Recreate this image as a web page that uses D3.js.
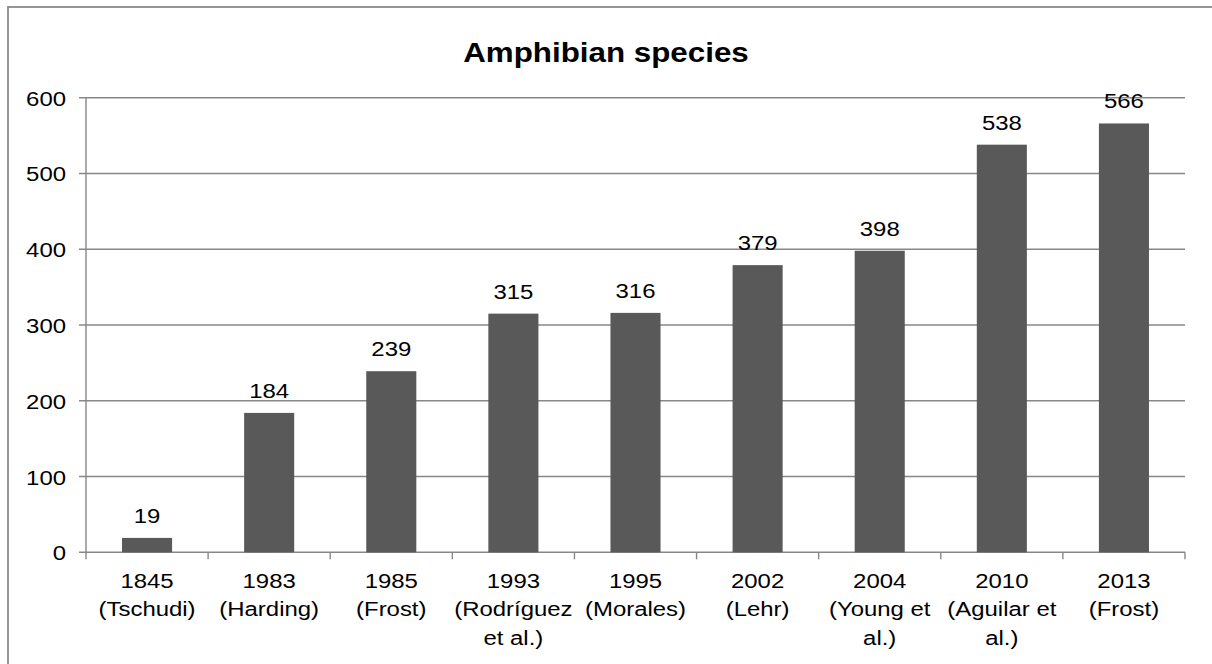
<!DOCTYPE html>
<html>
<head>
<meta charset="utf-8">
<script src="https://cdn.jsdelivr.net/npm/d3@7"></script>
<style>
  html, body { margin: 0; padding: 0; background: #fff; }
  svg { display: block; font-family: "Liberation Sans", Arial, sans-serif; }
</style>
</head>
<body>
<svg id="chart" width="1212" height="664"></svg>
<script>
// Amphibian species counts by survey (year and author)
const years   = ["1845", "1983", "1985", "1993", "1995", "2002", "2004", "2010", "2013"];
const authors = [["(Tschudi)"], ["(Harding)"], ["(Frost)"], ["(Rodríguez", "et al.)"], ["(Morales)"],
                 ["(Lehr)"], ["(Young et", "al.)"], ["(Aguilar et", "al.)"], ["(Frost)"]];
const species = [19, 184, 239, 315, 316, 379, 398, 538, 566];
const yTicks  = [0, 100, 200, 300, 400, 500, 600];
const title   = "Amphibian species";

const W = 1212, H = 664;
const plot = { left: 86, right: 1185, top: 97.7, bottom: 552.3 };
const stretch = 1.14;          // text is drawn slightly wide
const gridColor = "#878787";
const barColor = "#595959";

const svg = d3.select("#chart");

// outer chart frame
svg.append("rect")
  .attr("x", 8).attr("y", 7)
  .attr("width", W + 10).attr("height", H + 10)
  .attr("fill", "#fff").attr("stroke", "#8a8a8a").attr("stroke-width", 1.8);

const x = d3.scaleBand().domain(years).range([plot.left, plot.right]).padding(0);
const y = d3.scaleLinear().domain([0, 600]).range([plot.bottom, plot.top]);

// horizontal gridlines, extended left as the axis ticks
svg.append("g").selectAll("line").data(yTicks).join("line")
  .attr("x1", plot.left - 7).attr("x2", plot.right)
  .attr("y1", d => y(d)).attr("y2", d => y(d))
  .attr("stroke", gridColor).attr("stroke-width", 1.4);

// vertical value axis line
svg.append("line")
  .attr("x1", plot.left).attr("x2", plot.left)
  .attr("y1", plot.top).attr("y2", plot.bottom)
  .attr("stroke", gridColor).attr("stroke-width", 1.4);

// category axis tick marks at band boundaries
const bounds = years.map(d => x(d)).concat([plot.right]);
svg.append("g").selectAll("line").data(bounds).join("line")
  .attr("x1", d => d).attr("x2", d => d)
  .attr("y1", plot.bottom).attr("y2", plot.bottom + 7)
  .attr("stroke", gridColor).attr("stroke-width", 1.4);

function stretchedText(sel, fx, fy) {
  return sel.attr("transform", (d, i) => `translate(${fx(d, i)},${fy(d, i)}) scale(${stretch},1)`);
}

// y tick labels
stretchedText(
  svg.append("g").selectAll("text").data(yTicks).join("text"),
  () => plot.left - 20, d => y(d) + 8)
  .attr("text-anchor", "end").attr("font-size", 21).attr("fill", "#000")
  .text(d => d);

// bars
const barW = x.bandwidth() * 0.41;
svg.append("g").selectAll("rect").data(species).join("rect")
  .attr("x", (d, i) => x(years[i]) + (x.bandwidth() - barW) / 2)
  .attr("width", barW)
  .attr("y", d => y(d))
  .attr("height", d => y(0) - y(d))
  .attr("fill", barColor);

// value labels above bars
stretchedText(
  svg.append("g").selectAll("text").data(species).join("text"),
  (d, i) => x(years[i]) + x.bandwidth() / 2, d => y(d) - 15)
  .attr("text-anchor", "middle").attr("font-size", 21).attr("fill", "#000")
  .text(d => d);

// category labels: year plus author lines
const cat = stretchedText(
  svg.append("g").selectAll("text").data(years).join("text"),
  d => x(d) + x.bandwidth() / 2, () => 588)
  .attr("text-anchor", "middle").attr("font-size", 21).attr("fill", "#000");
cat.each(function (d, i) {
  const t = d3.select(this);
  t.append("tspan").attr("x", 0).attr("dy", 0).text(d);
  authors[i].forEach(line => t.append("tspan").attr("x", 0).attr("dy", 28.5).text(line));
});

// title
svg.append("text")
  .attr("transform", `translate(${W / 2},62) scale(${stretch},1)`)
  .attr("text-anchor", "middle").attr("font-size", 27.5).attr("font-weight", "bold")
  .attr("fill", "#000")
  .text(title);
</script>
</body>
</html>
